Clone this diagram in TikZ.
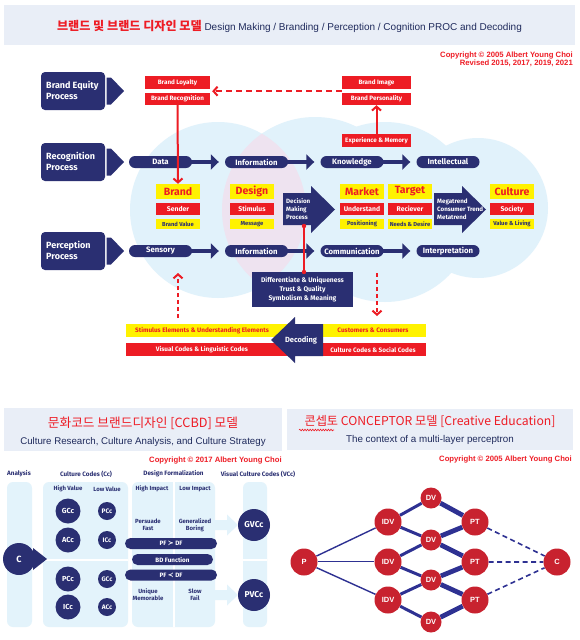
\documentclass[tikz,border=0pt]{standalone}
\usepackage{fontspec}
\setmainfont{Liberation Sans}
\newfontfamily\fira{Fira Sans}
\newfontfamily\kr{Noto Sans CJK KR}
\newfontfamily\dvs{DejaVu Sans}
\usetikzlibrary{arrows.meta,calc,backgrounds,decorations.pathmorphing}
\definecolor{navy}{HTML}{2A2F72}
\definecolor{bred}{HTML}{ED1C24}
\definecolor{byel}{HTML}{FFF200}
\definecolor{lblue}{HTML}{E1F2FB}
\definecolor{lpink}{HTML}{EEE3F0}
\definecolor{band}{HTML}{E9EEF7}
\definecolor{tred}{HTML}{EE1C25}
\definecolor{tnavy}{HTML}{1F2A5C}
\definecolor{nred}{HTML}{C8222F}
\definecolor{nblue}{HTML}{2E3192}
\definecolor{pblue}{HTML}{E3F3FB}
\newcommand\fsz[1]{\fontsize{#1}{#1}\selectfont}
\begin{document}
\begin{tikzpicture}[x=1pt,y=-1pt,
 pill/.style={fill=navy, rounded corners=6pt, minimum height=12pt, minimum width=63pt, inner sep=0pt, text=white, font=\fira\bfseries\fsz{7.8}},
 flow/.style={navy, line width=4pt, -{Triangle[length=8pt,width=15pt]}, shorten >=6pt, shorten <=-2pt},
 rbox/.style={fill=bred, inner sep=0pt, text=white, font=\fira\bfseries\fsz{6.3}},
 ttl/.style={fill=byel, inner sep=0pt, text=bred, font=\fira\bfseries\fsz{10.5}, minimum width=44pt, minimum height=15pt},
 rsub/.style={fill=bred, inner sep=0pt, text=white, font=\fira\bfseries\fsz{6.8}, minimum width=44pt, minimum height=12.5pt},
 ysub/.style={fill=byel, inner sep=0pt, text=navy, font=\fira\bfseries\fsz{5.8}, minimum width=44pt, minimum height=10pt},
 proctext/.style={anchor=west, align=left, inner sep=0pt, text=white, font=\fira\bfseries\fontsize{9}{11}\selectfont},
 arrtext/.style={anchor=west, align=left, inner sep=0pt, text=white, font=\fira\bfseries\fontsize{6.2}{8}\selectfont},
 btext/.style={inner sep=0pt, font=\fira\bfseries\fsz{6.4}},
 redarr/.style={bred, line width=2pt, -{Straight Barb[length=4pt,width=9pt]}},
 reddash/.style={bred, line width=2pt, dash pattern=on 4pt off 3pt, -{Straight Barb[length=4pt,width=9pt]}},
 cpy/.style={inner sep=0pt, text=tred, font=\bfseries\fsz{7.7}},
 hdr/.style={inner sep=0pt, text=navy, font=\fira\bfseries\fsz{6.3}},
 sub/.style={inner sep=0pt, text=navy, align=center, font=\fira\bfseries\fontsize{6}{7}\selectfont},
 bigc/.style={circle, fill=navy, inner sep=0pt, minimum size=25pt, text=white, font=\fira\bfseries\fsz{7.3}},
 smc/.style={circle, fill=navy, inner sep=0pt, minimum size=18pt, text=white, font=\fira\bfseries\fsz{6.5}},
 vc/.style={circle, fill=navy, inner sep=0pt, minimum size=32pt, text=white, font=\fira\bfseries\fsz{8.5}},
 bar/.style={fill=navy, rounded corners=5.5pt, inner sep=0pt, minimum height=11pt, text=white, font=\fira\bfseries\fsz{6.3}},
 nn/.style={circle, fill=nred, inner sep=0pt, minimum size=27pt, text=white, font=\bfseries\fsz{7.5}},
 dvn/.style={circle, fill=nred, inner sep=0pt, minimum size=21pt, text=white, font=\bfseries\fsz{7.5}},
 procarrow/.pic={
   \fill[navy, rounded corners=4pt] (41,-19) rectangle (105,19);
   \fill[navy] (106.5,-13.5) -- (111,-13.5) -- (124,0) -- (111,13.5) -- (106.5,13.5) -- cycle;
 }
]
\useasboundingbox (0,0) rectangle (579,640);
\begin{scope}[on background layer]
  \fill[white] (0,0) rectangle (579,640);
\end{scope}

% ---------- top panel ----------
\fill[band] (4,5) rectangle (575,45);
\node[inner sep=0pt] (title) at (289.5,26) {{\kr\bfseries\fsz{12.1}\color{tred}브랜드 및 브랜드 디자인 모델} {\fsz{10}\color{tnavy}Design Making / Branding / Perception / Cognition PROC and Decoding}};
\node[cpy, anchor=base east] (cp1) at (573,57) {Copyright © 2005 Albert Young Choi};
\node[cpy, anchor=base east] (cp2) at (573,65.5) {Revised 2015, 2017, 2019, 2021};

% background circles
\fill[lblue] (218,210) circle[radius=88];
\fill[lblue] (315,210) circle[radius=93];
\fill[lblue] (385,212) circle[radius=90];
\fill[lblue] (478,208) circle[radius=70];
\begin{scope}
  \clip (218,210) circle[radius=88];
  \fill[lpink] (315,210) circle[radius=93];
\end{scope}

% process arrows
\pic at (0,91) {procarrow};
\pic at (0,162) {procarrow};
\pic at (0,251) {procarrow};
\node[proctext] (peq) at (46,90) {Brand Equity\\Process};
\node[proctext] (prec) at (46,161) {Recognition\\Process};
\node[proctext] (pper) at (46,250) {Perception\\Process};

% red top boxes
\node[rbox, minimum width=65pt, minimum height=13pt] (bloy) at (177.5,82.5) {Brand Loyalty};
\node[rbox, minimum width=65pt, minimum height=12pt] (brec) at (177.5,99) {Brand Recognition};
\node[rbox, minimum width=69pt, minimum height=13pt] (bimg) at (376.5,82.5) {Brand Image};
\node[rbox, minimum width=69pt, minimum height=12pt] (bper) at (376.5,99) {Brand Personality};
\node[rbox, minimum width=69pt, minimum height=13pt] (expm) at (376.5,140.5) {Experience \& Memory};

% pills
\node[pill] (data) at (160.5,162) {Data};
\node[pill] (info1) at (256.5,162) {Information};
\node[pill] (know) at (352,162) {Knowledge};
\node[pill] (intel) at (448,162) {Intellectual};
\node[pill] (sens) at (160.5,251) {Sensory};
\node[pill] (info2) at (256.5,251) {Information};
\node[pill] (comm) at (352,251) {Communication};
\node[pill] (interp) at (448,251) {Interpretation};
\draw[flow] (data) -- (info1);
\draw[flow] (info1) -- (know);
\draw[flow] (know) -- (intel);
\draw[flow] (sens) -- (info2);
\draw[flow] (info2) -- (comm);
\draw[flow] (comm) -- (interp);

% middle columns
\foreach \x/\n/\t/\s/\v in {178/brand/Brand/Sender/Brand Value, 252/design/Design/Stimulus/Message, 362/market/Market/Understand/Positioning, 410/target/Target/Reciever/Needs \& Desire, 512/culture/Culture/Society/Value \& Living}{
  \node[ttl] (\n-t) at (\x,191.5) {\t};
  \node[rsub] (\n-s) at (\x,209) {\s};
  \node[ysub] (\n-v) at (\x,224) {\v};
}

% decision & megatrend arrows
\fill[navy] (283,193) -- (311,193) -- (311,186) -- (335,209.5) -- (311,233) -- (311,225) -- (283,225) -- cycle;
\node[arrtext] (dec) at (286,209) {Decision\\Making\\Process};
\fill[navy] (434,193) -- (462,193) -- (462,186) -- (486,209.5) -- (462,233) -- (462,225) -- (434,225) -- cycle;
\node[arrtext] (mega) at (437,209) {Megatrend\\Consumer Trend\\Metatrend};

\node[fill=navy, minimum width=101pt, minimum height=35pt, inner sep=0pt, text=white, align=center, font=\fira\bfseries\fontsize{6.7}{9.3}\selectfont] (diff) at (302.5,289.5) {Differentiate \& Uniqueness\\Trust \& Quality\\Symbolism \& Meaning};
\coordinate (decb) at (304,226);
\coordinate (diffn) at (304,272);
\draw[bred, line width=1.5pt] (decb) -- (diffn);
\fill[bred] (decb) circle[radius=2.2];
\fill[bred] (diffn) circle[radius=2.2];

% red connectors
\draw[bred, line width=2pt, dash pattern=on 6pt off 4pt, -{Straight Barb[length=4pt,width=9pt]}, shorten >=2pt] ([yshift=-2pt]bimg.south west) -- ([yshift=-2pt]bloy.south east);
\draw[redarr] (brec.south) -- (brand-t.north);
\draw[redarr] (expm.north) -- (bper.south);

% bottom bars
\fill[byel] (126,324) rectangle (426,337);
\fill[bred] (126,343) rectangle (426,356);
\node[btext, text=bred] (stim) at (202,330.5) {Stimulus Elements \& Understanding Elements};
\node[btext, text=bred] (cust) at (373,330.5) {Customers \& Consumers};
\node[btext, text=white] (vis) at (202,349.5) {Visual Codes \& Linguistic Codes};
\node[btext, text=white] (cult) at (373,349.5) {Culture Codes \& Social Codes};
\fill[navy] (323,324) -- (295,324) -- (295,317) -- (271,340) -- (295,363) -- (295,356) -- (323,356) -- cycle;
\node[inner sep=0pt, text=white, font=\fira\bfseries\fsz{7.5}] (deco) at (301,340) {Decoding};

\coordinate (dl1) at (178,318);
\coordinate (dl2) at (178,273);
\coordinate (dr1) at (377,273);
\coordinate (dr2) at (377,316);
\draw[reddash] (dl1) -- (dl2);
\draw[reddash] (dr1) -- (dr2);

% ---------- bottom-left panel ----------
\fill[band] (4,408) rectangle (282,451);
\node[inner sep=0pt] (t2) at (143,423) {\kr\fsz{12.7}\color{tred}문화코드 브랜드디자인 [CCBD] 모델};
\node[inner sep=0pt] (s2) at (143,442) {\fsz{9.7}\color{tnavy}Culture Research, Culture Analysis, and Culture Strategy};
\node[cpy, anchor=base east] (cp3) at (282,462) {Copyright © 2017 Albert Young Choi};

\node[hdr] (hA) at (19,474) {Analysis};
\node[hdr] (hC) at (86,474) {Culture Codes (Cc)};
\node[hdr] (hD) at (173.5,474) {Design Formalization};
\node[hdr] (hV) at (258,474) {Visual Culture Codes (VCc)};

\fill[pblue, rounded corners=6pt] (7,482) rectangle (32,627);
\fill[pblue, rounded corners=6pt] (43,482) rectangle (128,627);
\fill[pblue, rounded corners=6pt] (132,482) rectangle (215,627);
\fill[pblue, rounded corners=6pt] (243,482) rectangle (267,627);
\draw[white, line width=2pt] (43,559.5) -- (128,559.5);
\draw[white, line width=2pt] (243,559.5) -- (267,559.5);
\draw[white, line width=2pt] (174,482) -- (174,627);

\node[hdr, font=\fira\bfseries\fsz{6}] (hv) at (68,489) {High Value};
\node[hdr, font=\fira\bfseries\fsz{6}] (lv) at (107,489) {Low Value};
\node[hdr, font=\fira\bfseries\fsz{6}] (hi) at (152,489) {High Impact};
\node[hdr, font=\fira\bfseries\fsz{6}] (li) at (195,489) {Low Impact};

\node[bigc] (g1) at (68,511) {GCc};
\node[smc] (p1) at (107,511) {PCc};
\node[bigc] (a1) at (68,540) {ACc};
\node[smc] (i1) at (107,540) {ICc};
\node[bigc] (p2) at (68,579) {PCc};
\node[smc] (g2) at (107,579) {GCc};
\node[bigc] (i2) at (68,607) {ICc};
\node[smc] (a2) at (107,607) {ACc};

\node[sub] (pf) at (148,525) {Persuade\\Fast};
\node[sub] (gb) at (195,525) {Generalized\\Boring};
\node[sub] (um) at (148,594.5) {Unique\\Memorable};
\node[sub] (sf) at (195,594.5) {Slow\\Fail};

\node[bar, minimum width=92pt] (pf1) at (171,543.5) {PF {\dvs\fsz{7}≻} DF};
\node[bar, minimum width=81pt] (bdf) at (172.5,559.5) {BD Function};
\node[bar, minimum width=92pt] (pf2) at (171,575) {PF {\dvs\fsz{7}≺} DF};

\fill[pblue] (215,520) -- (227,520) -- (227,514.5) -- (238,525) -- (227,535.5) -- (227,530) -- (215,530) -- cycle;
\fill[pblue] (215,590) -- (227,590) -- (227,584.5) -- (238,595) -- (227,605.5) -- (227,600) -- (215,600) -- cycle;
\node[vc] (gv) at (254,525) {GVCc};
\node[vc] (pv) at (254,595) {PVCc};

\fill[navy] (33,548) -- (47,559) -- (33,570) -- cycle;
\node[vc, font=\fira\bfseries\fsz{9}] (cA) at (19,559) {C};

% ---------- bottom-right panel ----------
\fill[band] (287,409) rectangle (573,450);
\node[inner sep=0pt] (t3) at (430,421) {\kr\fsz{12.2}\color{tred}콘셉토 CONCEPTOR 모델 [Creative Education]};
\draw[tred, line width=0.6pt, decorate, decoration={snake, amplitude=0.8pt, segment length=2.6pt}] (299,430) -- (334,430);
\node[inner sep=0pt] (s3) at (430,440) {\fsz{9.8}\color{tnavy}The context of a multi-layer perceptron};
\node[cpy, anchor=base east] (cp4) at (572,461.5) {Copyright © 2005 Albert Young Choi};

\node[nn] (P) at (304,562) {P};
\node[nn] (I1) at (388,522) {IDV};
\node[nn] (I2) at (388,562) {IDV};
\node[nn] (I3) at (388,600) {IDV};
\node[dvn] (D1) at (431,498) {DV};
\node[dvn] (D2) at (431,540) {DV};
\node[dvn] (D3) at (431,580) {DV};
\node[dvn] (D4) at (431,622) {DV};
\node[nn] (T1) at (475,522) {PT};
\node[nn] (T2) at (475,562) {PT};
\node[nn] (T3) at (475,600) {PT};
\node[nn] (Cn) at (557,562) {C};
\begin{scope}[on background layer]
  \draw[nblue, line width=1.4pt] (P) -- (I1) (P) -- (I3);
  \draw[nblue, line width=1pt, double=white, double distance=0.7pt] (P) -- (I2);
  \draw[nblue, line width=3pt] (I1) -- (D1) (I1) -- (D2) (I2) -- (D2) (I2) -- (D3) (I3) -- (D3) (I3) -- (D4);
  \draw[nblue, line width=4.8pt] (D1) -- (T1) (D2) -- (T1) (D2) -- (T2) (D3) -- (T2) (D3) -- (T3) (D4) -- (T3);
  \draw[nblue, line width=1.6pt, dash pattern=on 5pt off 3.5pt] (T1) -- (Cn) (T2) -- (Cn) (T3) -- (Cn);
\end{scope}
\end{tikzpicture}
\end{document}
